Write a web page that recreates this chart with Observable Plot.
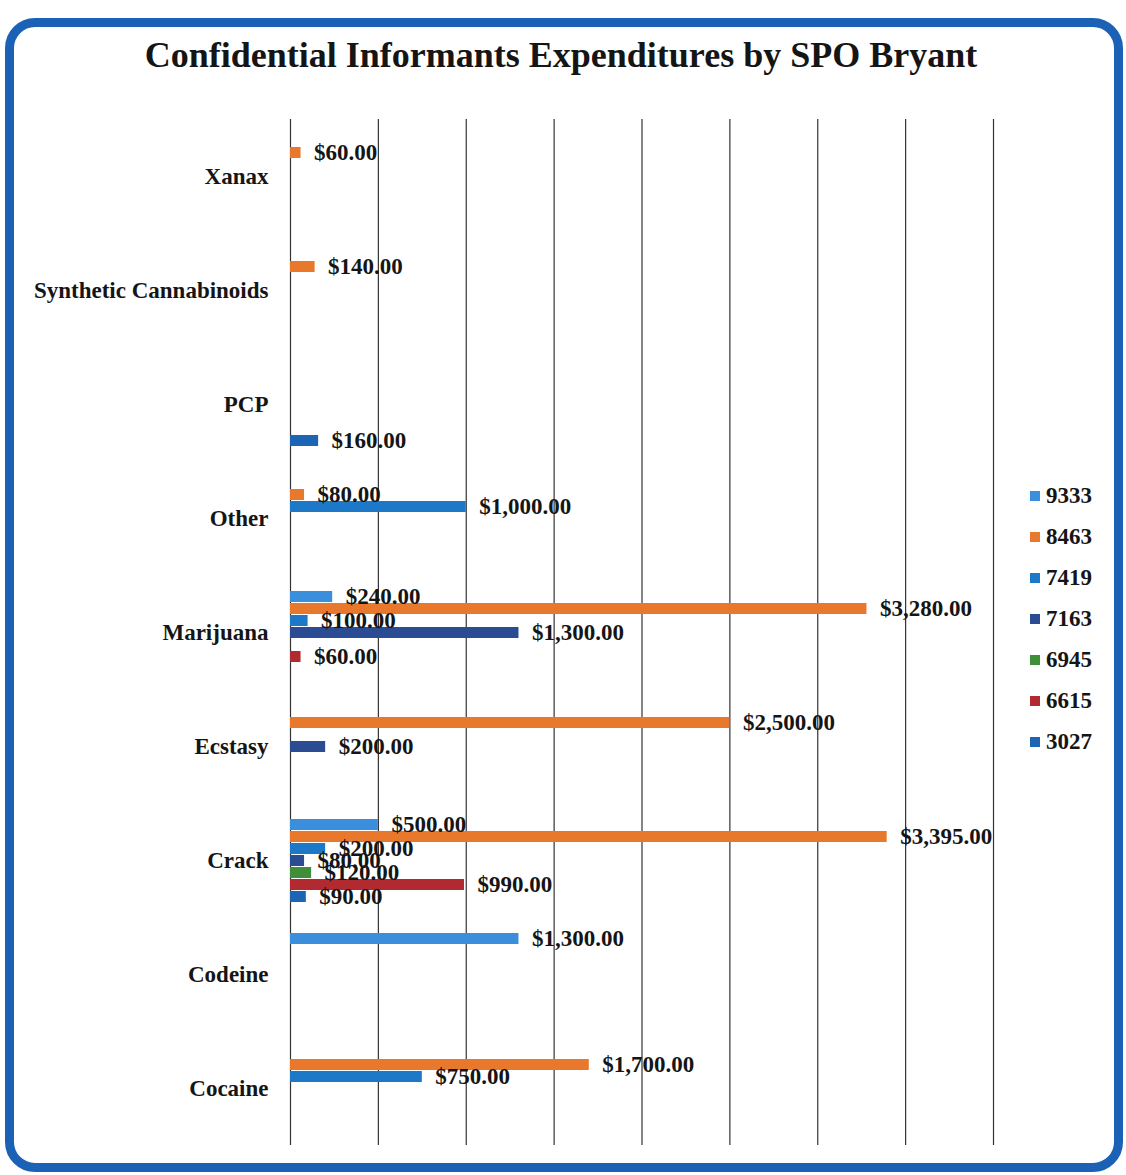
<!DOCTYPE html>
<html>
<head>
<meta charset="utf-8">
<script src="https://cdn.jsdelivr.net/npm/d3@7"></script>
<script src="https://cdn.jsdelivr.net/npm/@observablehq/plot@0.6"></script>
<style>
  html, body { margin: 0; padding: 0; background: #fff; }
  #wrap { position: relative; width: 1126px; height: 1175px; overflow: hidden; font-family: "Liberation Serif", "DejaVu Serif", serif; }
  #frame { position: absolute; left: 5px; top: 18px; width: 1118px; height: 1154px; box-sizing: border-box;
           border: 9px solid #1B62B6; border-radius: 30px; }
  #title { position: absolute; left: 0; width: 1122px; top: 34px; text-align: center;
           font-weight: bold; font-size: 36px; color: #151515; }
  #chart { position: absolute; left: 0; top: 0; }
  #legend { position: absolute; left: 1030px; top: 475px; }
  .lg { height: 41px; display: flex; align-items: center; font-weight: bold; font-size: 23px; color: #151515; }
  .sw { width: 10px; height: 10px; margin-right: 6px; }
</style>
</head>
<body>
<div id="wrap">
  <div id="frame"></div>
  <div id="title">Confidential Informants Expenditures by SPO Bryant</div>
  <div id="chart"></div>
  <div id="legend"></div>
</div>
<script>
// Categories (top to bottom)
const categories = ["Xanax", "Synthetic Cannabinoids", "PCP", "Other", "Marijuana", "Ecstasy", "Crack", "Codeine", "Cocaine"];
// Series (informant numbers), in legend / bar order
const series = ["9333", "8463", "7419", "7163", "6945", "6615", "3027"];
const seriesColors = ["#3A8EDC", "#E8782C", "#1E78C8", "#2B4C93", "#3E8E3A", "#B02A30", "#1C64B4"];

// Values per series, aligned with categories (null = no bar)
const v9333 = [null, null, null, null, 240, null, 500, 1300, null];
const v8463 = [60, 140, null, 80, 3280, 2500, 3395, null, 1700];
const v7419 = [null, null, null, 1000, 100, null, 200, null, 750];
const v7163 = [null, null, null, null, 1300, 200, 80, null, null];
const v6945 = [null, null, null, null, null, null, 120, null, null];
const v6615 = [null, null, null, null, 60, null, 990, null, null];
const v3027 = [null, null, 160, null, null, null, 90, null, null];

// Axis gridline values
const xTicks = [0, 500, 1000, 1500, 2000, 2500, 3000, 3500, 4000];

const valueArrays = [v9333, v8463, v7419, v7163, v6945, v6615, v3027];
const data = [];
series.forEach((s, i) => {
  valueArrays[i].forEach((v, j) => {
    if (v != null) data.push({category: categories[j], series: s, value: v});
  });
});

const fmt = d3.format("$,.2f");

const chart = Plot.plot({
  width: 1126,
  height: 1175,
  marginLeft: 290,
  marginRight: 133,
  marginTop: 116,
  marginBottom: 27,
  style: {fontFamily: "'Liberation Serif', serif", fontSize: "23px", fontWeight: "bold", color: "#151515", background: "transparent"},
  x: {domain: [0, 4000], axis: null},
  y: {domain: series, axis: null, paddingInner: 0.1, paddingOuter: 0.98},
  fy: {domain: categories, padding: 0, axis: "left", label: null, tickSize: 0, tickPadding: 22},
  color: {domain: series, range: seriesColors},
  marks: [
    Plot.ruleX(xTicks, {stroke: "#333", strokeWidth: 1.2}),
    Plot.barX(data, {x: "value", y: "series", fy: "category", fill: "series"}),
    Plot.text(data, {x: "value", y: "series", fy: "category", text: d => fmt(d.value),
      textAnchor: "start", dx: 13, fontSize: 23, fontWeight: "bold", fill: "#151515"})
  ]
});
document.getElementById("chart").appendChild(chart);

const legend = document.getElementById("legend");
series.forEach((s, i) => {
  const row = document.createElement("div");
  row.className = "lg";
  const sw = document.createElement("div");
  sw.className = "sw";
  sw.style.background = seriesColors[i];
  const t = document.createElement("span");
  t.textContent = s;
  row.appendChild(sw);
  row.appendChild(t);
  legend.appendChild(row);
});
</script>
</body>
</html>
